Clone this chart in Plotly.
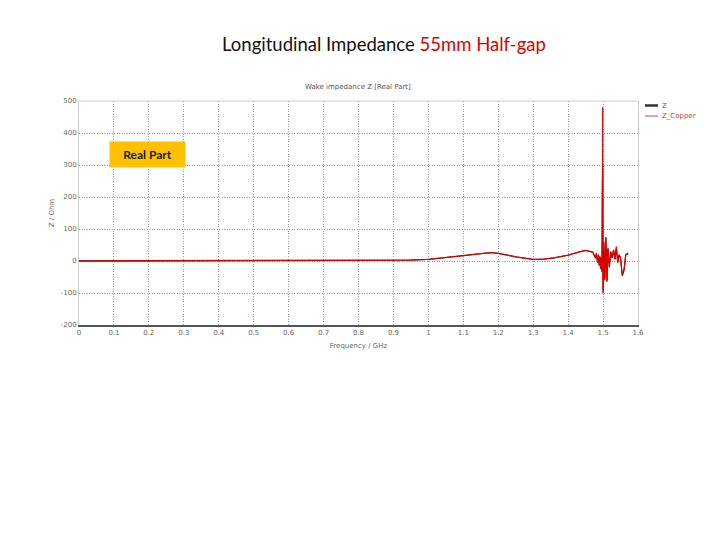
import plotly.graph_objects as go

# Frequency (GHz)
freq = [0, 0.1, 0.2, 0.3, 0.4, 0.5, 0.6, 0.7, 0.8, 0.85, 0.9, 0.95, 1.0, 1.05, 1.1,
        1.15, 1.18, 1.2, 1.25, 1.3, 1.33, 1.36, 1.4, 1.43, 1.45, 1.47,
        1.475, 1.478, 1.481, 1.484, 1.487, 1.489, 1.491, 1.493, 1.495, 1.497,
        1.498, 1.499, 1.5, 1.502, 1.505, 1.508, 1.511, 1.514, 1.518, 1.522,
        1.526, 1.53, 1.534, 1.538, 1.542, 1.546, 1.55, 1.555, 1.56, 1.565, 1.57, 1.572]

# Real part of impedance (Ohm)
z_copper = [0, 0.2, 0.5, 0.5, 0.5, 0.8, 1, 1, 1.5, 1.5, 2, 3, 5, 10, 17,
            23, 26, 24, 13, 5, 6, 10, 18, 28, 33, 28,
            20, 8, 25, -5, 20, -15, 15, -25, 10, -35,
            300, 480, -100, 60, -60, 75, -65, 40, -20, 30,
            10, 35, 5, 45, -5, 20, 10, -47, -30, 20, 24, 22]

z_plain = [0, 0.2, 0.5, 0.5, 0.5, 0.8, 1, 1, 1.5, 1.5, 2, 3, 5, 10, 17,
           23, 26, 24, 13, 5, 6, 10, 18, 28, 33, 28,
           18, 10, 22, -3, 18, -12, 12, -20, 8, -30,
           220, 300, -90, 55, -55, 70, -60, 38, -18, 28,
           10, 33, 6, 42, -4, 19, 10, -44, -28, 19, 23, 21]

x_ticks = [0, 0.1, 0.2, 0.3, 0.4, 0.5, 0.6, 0.7, 0.8, 0.9, 1, 1.1, 1.2, 1.3, 1.4, 1.5, 1.6]
y_ticks = [-200, -100, 0, 100, 200, 300, 400, 500]

fig = go.Figure()
fig.add_trace(go.Scatter(x=freq, y=z_plain, mode="lines", name="Z",
                         line=dict(color="#8a0000", width=1.3)))
fig.add_trace(go.Scatter(x=freq, y=z_copper, mode="lines", name="Z_Copper",
                         line=dict(color="#e00000", width=1)))

axis_font = dict(family="DejaVu Sans", size=7, color="#666666")

# page body margin offset
OX, OY = 8, 8
PW, PH = 559, 224
L, T = 79 - OX, 101 - OY
R = 720 - L - PW
B = 540 - T - PH


def px(xp):
    return (xp - OX - L) / PW


def py(yp):
    return (T + PH - (yp - OY)) / PH


fig.update_layout(
    width=720, height=540,
    paper_bgcolor="white", plot_bgcolor="white",
    margin=dict(l=L, r=R, t=T, b=B, autoexpand=False),
    showlegend=False,
    xaxis=dict(range=[0, 1.6], tickvals=x_ticks, ticktext=[str(t) for t in x_ticks],
               showgrid=True, gridcolor="#9a9a9a", griddash="1px,1.5px", gridwidth=1,
               showline=True, linecolor="#555555", linewidth=1.5,
               zeroline=False, tickfont=axis_font, ticks="", automargin=False,
               title=dict(text="Frequency / GHz", font=axis_font, standoff=7)),
    yaxis=dict(range=[-200, 500], tickvals=y_ticks, ticktext=[str(t) for t in y_ticks],
               showgrid=True, gridcolor="#9a9a9a", griddash="1px,1.5px", gridwidth=1,
               showline=True, linecolor="#cccccc", linewidth=1, mirror=True,
               zeroline=False, tickfont=axis_font, ticks="", automargin=False,
               title=dict(text="Z / Ohm", font=axis_font, standoff=5)),
)

# top border of plot area
fig.add_shape(type="line", xref="paper", yref="paper", x0=0, x1=1, y0=1, y1=1,
              line=dict(color="#cccccc", width=1))

# Legend (drawn manually to match compact spacing)
fig.add_shape(type="line", xref="paper", yref="paper", x0=px(645), x1=px(658),
              y0=py(105.5), y1=py(105.5), line=dict(color="#333333", width=2.5))
fig.add_shape(type="line", xref="paper", yref="paper", x0=px(645), x1=px(658),
              y0=py(116), y1=py(116), line=dict(color="#e04040", width=1))
fig.add_annotation(xref="paper", yref="paper", x=px(660), y=py(105.5), xanchor="left",
                   yanchor="middle", showarrow=False, text="Z",
                   font=dict(family="DejaVu Sans", size=7, color="#555555"))
fig.add_annotation(xref="paper", yref="paper", x=px(660), y=py(116), xanchor="left",
                   yanchor="middle", showarrow=False, text="Z_Copper",
                   font=dict(family="DejaVu Sans", size=7, color="#d04040"))

# Slide title
fig.add_annotation(xref="paper", yref="paper", x=px(384), y=py(44),
                   xanchor="center", yanchor="middle", showarrow=False,
                   text="Longitudinal Impedance <span style='color:#e00000'>55mm Half-gap</span>",
                   font=dict(family="Lato", size=18.5, color="#111111"))

# Inner chart title
fig.add_annotation(xref="paper", yref="paper", x=px(358), y=py(87),
                   xanchor="center", yanchor="middle", showarrow=False,
                   text="Wake impedance Z [Real Part]",
                   font=dict(family="DejaVu Sans", size=7, color="#555555"))

# Real Part label box
fig.add_annotation(xref="paper", yref="paper", x=px(147.5), y=py(154.5),
                   xanchor="center", yanchor="middle", showarrow=False,
                   text="<b>Real Part</b>", bgcolor="#FFC000", width=69, height=19,
                   borderpad=3, font=dict(family="Lato", size=12, color="#1a1a1a"))

fig.write_html("out.html")
